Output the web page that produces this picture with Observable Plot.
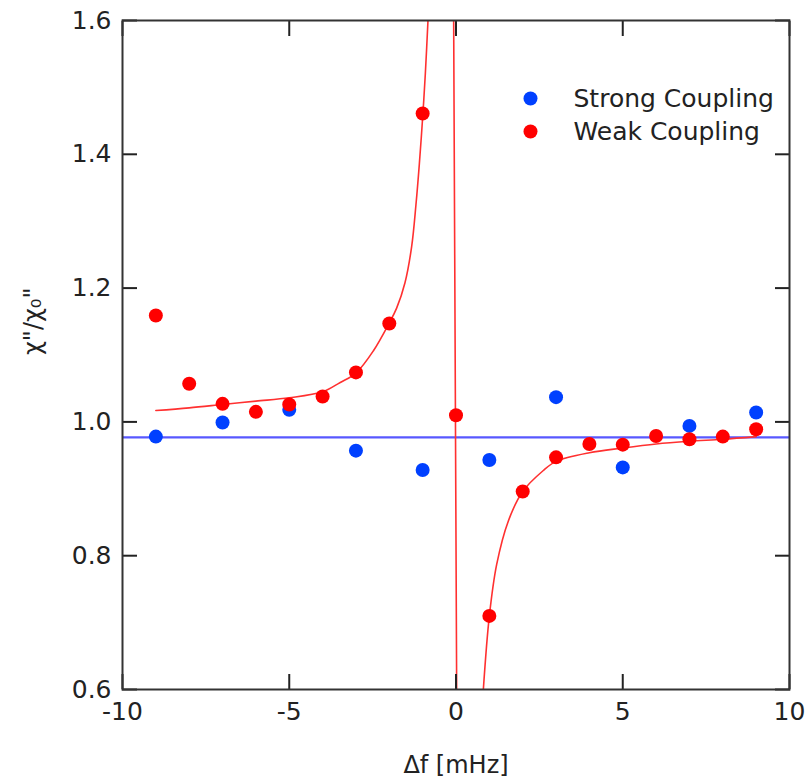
<!DOCTYPE html>
<html><head><meta charset="utf-8">
<script src="https://cdn.jsdelivr.net/npm/d3@7"></script>
<script src="https://cdn.jsdelivr.net/npm/@observablehq/plot@0.6"></script>
<style>body{margin:0;background:#fff}</style>
</head><body><div id="chart"></div>
<script>
// Data
const strongX = [-9, -7, -5, -3, -1, 1, 3, 5, 7, 9];
const strongY = [0.978, 0.999, 1.018, 0.957, 0.928, 0.943, 1.037, 0.932, 0.994, 1.014];
const weakX = [-9, -8, -7, -6, -5, -4, -3, -2, -1, 0, 1, 2, 3, 4, 5, 6, 7, 8, 9];
const weakY = [1.159, 1.057, 1.027, 1.015, 1.026, 1.038, 1.074, 1.147, 1.461, 1.010, 0.710, 0.896, 0.947, 0.967, 0.966, 0.979, 0.974, 0.978, 0.989];
const strongLevel = 0.977;
// Fit curve (weak coupling)
const fitLeftX = [-9, -8, -7, -6, -5, -4, -3.47, -3, -2.48, -2, -1.78, -1.53, -1.33, -1.2, -1.1, -1.0, -0.92, -0.84];
const fitLeftY = [1.017, 1.021, 1.026, 1.031, 1.036, 1.045, 1.059, 1.073, 1.106, 1.148, 1.170, 1.208, 1.262, 1.325, 1.385, 1.455, 1.52, 1.6];
const fitJumpX = [-0.07, 0.02];
const fitJumpY = [1.6, 0.6];
const fitRightX = [0.82, 1.0, 1.22, 1.57, 2.0, 2.61, 3.0, 4.0, 5.0, 6.0, 7.0, 8.0, 9.0];
const fitRightY = [0.600, 0.710, 0.787, 0.852, 0.896, 0.927, 0.941, 0.954, 0.961, 0.967, 0.971, 0.974, 0.978];
const xTicks = [-10, -5, 0, 5, 10];
const yTicks = [0.6, 0.8, 1.0, 1.2, 1.4, 1.6];
const legendLabels = ["Strong Coupling", "Weak Coupling"];
const legendColors = ["#0040ff", "#ff0000"];
const xLabel = "Δf [mHz]";
const yLabel = "χ\"/χ₀\"";

const zip = (xs, ys) => xs.map((x, i) => ({x, y: ys[i]}));
const strong = zip(strongX, strongY);
const weak = zip(weakX, weakY);
const fitLeft = zip(fitLeftX, fitLeftY);
const fitJump = zip(fitJumpX, fitJumpY);
const fitRight = zip(fitRightX, fitRightY);

const FONT = "DejaVu Sans";
const FS = 25;
const redLine = "#ff3030";

const chart = Plot.plot({
  width: 810, height: 781,
  marginLeft: 122, marginRight: 21, marginTop: 20, marginBottom: 92,
  style: {fontFamily: FONT, fontSize: FS + "px", color: "#222", background: "#fff"},
  x: {domain: [-10, 10]},
  y: {domain: [0.6, 1.6]},
  marks: [
    Plot.ruleY([strongLevel], {stroke: "#5858ff", strokeWidth: 2.2}),
    Plot.line(fitLeft, {x: "x", y: "y", stroke: redLine, strokeWidth: 1.6, curve: "catmull-rom", clip: true}),
    Plot.line(fitJump, {x: "x", y: "y", stroke: redLine, strokeWidth: 1.6, clip: true}),
    Plot.line(fitRight, {x: "x", y: "y", stroke: redLine, strokeWidth: 1.6, curve: "catmull-rom", clip: true}),
    Plot.dot(strong, {x: "x", y: "y", r: 7, fill: legendColors[0]}),
    Plot.dot(weak, {x: "x", y: "y", r: 7, fill: legendColors[1]}),
    // tick labels
    Plot.axisX(xTicks, {anchor: "bottom", tickSize: 0, tickPadding: 13, tickFormat: d => String(d), label: null, fontSize: FS}),
    Plot.axisY(yTicks, {anchor: "left", tickSize: 0, tickPadding: 11, tickFormat: d3.format(".1f"), label: null, fontSize: FS}),
    // inward ticks on all four sides
    Plot.axisX(xTicks, {anchor: "bottom", tickSize: -15, tickFormat: () => "", label: null, stroke: "#222", strokeWidth: 2}),
    Plot.axisX(xTicks, {anchor: "top", tickSize: -15, tickFormat: () => "", label: null, stroke: "#222", strokeWidth: 2}),
    Plot.axisY(yTicks, {anchor: "left", tickSize: -15, tickFormat: () => "", label: null, stroke: "#222", strokeWidth: 2}),
    Plot.axisY(yTicks, {anchor: "right", tickSize: -15, tickFormat: () => "", label: null, stroke: "#222", strokeWidth: 2}),
    Plot.frame({stroke: "#333", strokeWidth: 2}),
    // axis titles
    Plot.text([xLabel], {frameAnchor: "bottom", lineAnchor: "middle", dy: 76, fontSize: 24, fill: "#222"}),
    Plot.text([yLabel], {frameAnchor: "left", lineAnchor: "middle", dx: -89, rotate: -90, fontSize: 24, fill: "#222"}),
    // legend
    ...legendLabels.map((lab, i) => Plot.dot([lab], {frameAnchor: "top-left", dx: 408, dy: 78 + 33 * i, r: 7, fill: legendColors[i]})),
    ...legendLabels.map((lab, i) => Plot.text([lab], {frameAnchor: "top-left", lineAnchor: "middle", dx: 451, dy: 78 + 33 * i, textAnchor: "start", fontSize: FS, fill: "#222"}))
  ]
});
document.getElementById("chart").appendChild(chart);
</script>
</body></html>
